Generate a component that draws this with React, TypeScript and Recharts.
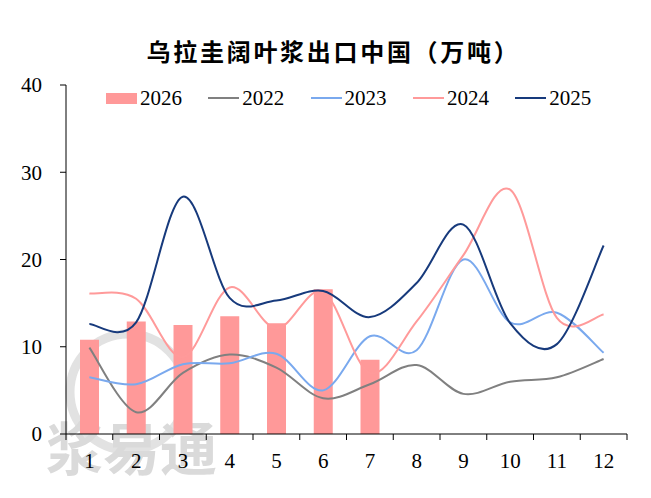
import React from 'react';
import { ComposedChart, Bar, Line, XAxis, YAxis } from 'recharts';

const months = ['1', '2', '3', '4', '5', '6', '7', '8', '9', '10', '11', '12'];
const v2026 = [10.8, 12.9, 12.5, 13.5, 12.7, 16.6, 8.5, null, null, null, null, null];
const v2022 = [9.9, 2.5, 7.0, 9.1, 7.6, 4.1, 5.7, 7.9, 4.6, 6.0, 6.5, 8.6];
const v2023 = [6.5, 5.7, 8.0, 8.1, 9.2, 5.0, 11.2, 9.6, 20.0, 12.8, 13.9, 9.3];
const v2024 = [16.1, 15.5, 8.8, 16.8, 12.1, 16.3, 7.0, 12.9, 20.5, 28.0, 13.3, 13.7];
const v2025 = [12.6, 12.8, 27.2, 15.6, 15.3, 16.4, 13.4, 17.3, 24.0, 12.7, 10.3, 21.6];
const yTicks = [0, 10, 20, 30, 40];

const lineSeries = [
  { key: '2022', color: '#808080' },
  { key: '2023', color: '#7aa9ee' },
  { key: '2024', color: '#ff9a9a' },
  { key: '2025', color: '#173a7c' },
];
const barColor = '#ff9999';

const data = months.map((m, i) => ({
  month: m,
  '2026': v2026[i],
  '2022': v2022[i],
  '2023': v2023[i],
  '2024': v2024[i],
  '2025': v2025[i],
}));

// Excel-like smoothing (uniform Catmull-Rom) as a d3 curve factory
const smooth = (context: any) => {
  let pts: number[][] = [];
  return {
    areaStart() {},
    areaEnd() {},
    lineStart() {
      pts = [];
    },
    lineEnd() {
      const n = pts.length;
      if (!n) return;
      context.moveTo(pts[0][0], pts[0][1]);
      for (let i = 0; i < n - 1; i++) {
        const p0 = pts[i - 1] || pts[i];
        const p1 = pts[i];
        const p2 = pts[i + 1];
        const p3 = pts[i + 2] || pts[i + 1];
        context.bezierCurveTo(
          p1[0] + (p2[0] - p0[0]) / 6,
          p1[1] + (p2[1] - p0[1]) / 6,
          p2[0] - (p3[0] - p1[0]) / 6,
          p2[1] - (p3[1] - p1[1]) / 6,
          p2[0],
          p2[1]
        );
      }
    },
    point(x: number, y: number) {
      pts.push([+x, +y]);
    },
  };
};

const serif = '"Liberation Serif", "Times New Roman", serif';
const band = 561 / 12;

const MonthTick = (props: any) => {
  const { x, y, payload, index } = props;
  return (
    <g>
      <line x1={x - band / 2} y1={y} x2={x - band / 2} y2={y + 6} stroke="#000" />
      {index === months.length - 1 && (
        <line x1={x + band / 2} y1={y} x2={x + band / 2} y2={y + 6} stroke="#000" />
      )}
      <text x={x} y={y + 34} textAnchor="middle" fontSize={21} fontFamily={serif} fill="#000">
        {payload.value}
      </text>
    </g>
  );
};

const legendItems = [{ key: '2026', color: barColor, bar: true }, ...lineSeries.map((s) => ({ ...s, bar: false }))];

export default function App() {
  return (
    <div style={{ position: 'absolute', left: 0, top: 0, width: 651, height: 498, background: '#fff' }}>
      <svg width={651} height={498} style={{ position: 'absolute', left: 0, top: 0 }}>
        <circle cx={128} cy={392} r={58} fill="none" stroke="#e2e2e2" strokeWidth={9} />
        <text x={46} y={470} fontSize={57} fontWeight="bold" fontFamily='"Noto Sans CJK SC", sans-serif' fill="#dadada">
          浆易通
        </text>
      </svg>
      <div style={{ position: 'absolute', left: 0, top: 0 }}>
        <ComposedChart
          width={651}
          height={498}
          data={data}
          margin={{ top: 85, right: 24, bottom: 24, left: 10 }}
          barSize={19}
        >
          <XAxis
            dataKey="month"
            axisLine={{ stroke: '#000' }}
            tickLine={false}
            tickSize={0}
            tickMargin={0}
            height={40}
            interval={0}
            tick={<MonthTick />}
          />
          <YAxis
            domain={[0, 40]}
            ticks={yTicks}
            width={56}
            axisLine={{ stroke: '#000' }}
            tickLine={{ stroke: '#000' }}
            tickSize={6}
            tickMargin={18}
            tick={{ fontSize: 21, fontFamily: serif, fill: '#000' }}
          />
          <Bar dataKey="2026" fill={barColor} isAnimationActive={false} />
          {lineSeries.map((s) => (
            <Line
              key={s.key}
              dataKey={s.key}
              type={smooth as any}
              stroke={s.color}
              strokeWidth={2}
              dot={false}
              activeDot={false}
              isAnimationActive={false}
            />
          ))}
        </ComposedChart>
      </div>
      <div
        style={{
          position: 'absolute',
          left: 0,
          top: 36,
          width: 651,
          textAlign: 'center',
          fontFamily: '"Noto Sans CJK SC", sans-serif',
          fontWeight: 'bold',
          fontSize: 24,
          letterSpacing: 2.7,
          lineHeight: '30px',
          color: '#000',
        }}
      >
        <span style={{ marginLeft: 16 }}>乌拉圭阔叶浆出口中国（万吨）</span>
      </div>
      {legendItems.map((it, i) => (
        <div
          key={it.key}
          style={{
            position: 'absolute',
            left: 106 + i * 102.3,
            top: 86,
            height: 24,
            display: 'flex',
            alignItems: 'center',
            fontFamily: serif,
            fontSize: 21,
            color: '#000',
          }}
        >
          <span
            style={{
              display: 'inline-block',
              width: 31,
              height: it.bar ? 11 : 2,
              background: it.color,
              marginRight: 3,
            }}
          />
          <span>{it.key}</span>
        </div>
      ))}
    </div>
  );
}
